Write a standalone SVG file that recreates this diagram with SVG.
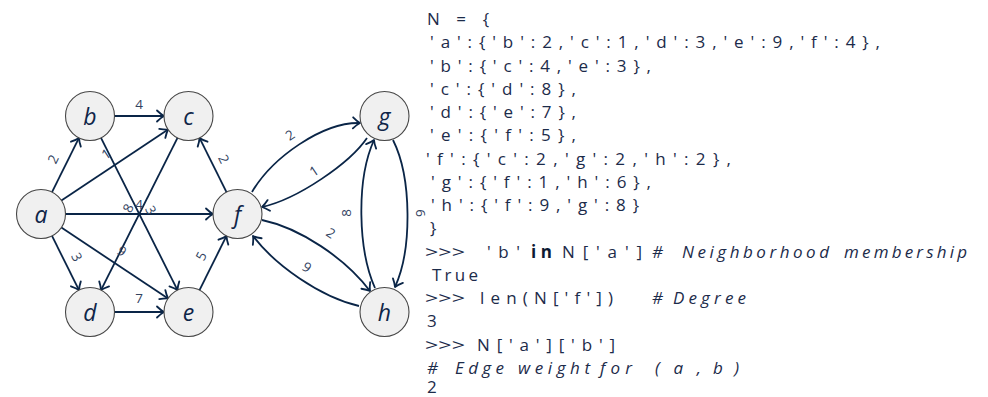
<svg xmlns="http://www.w3.org/2000/svg" width="988" height="397" viewBox="0 0 988 397">
<defs>
<marker id="arr" viewBox="-9 -8 11 16" refX="0" refY="0" markerWidth="11" markerHeight="16" markerUnits="userSpaceOnUse" orient="auto" overflow="visible">
<path d="M-7,-5.5 Q-3,-1.6 0,0 Q-3,1.6 -7,5.5" fill="none" stroke="#0a2547" stroke-width="1.8" stroke-linecap="round" stroke-linejoin="round"/>
</marker>
</defs>
<style>
.node circle{fill:#f0f0f0;stroke:#474747;stroke-width:1.1}
.node text{font-family:"Open Sans","DejaVu Sans",sans-serif;font-style:italic;font-size:23px;fill:#0f2548;text-anchor:middle;dominant-baseline:central}
.e{fill:none;stroke:#0a2547;stroke-width:1.8;marker-end:url(#arr)}
.lbl{font-family:"Open Sans","DejaVu Sans",sans-serif;font-size:13.5px;fill:#33435f;text-anchor:middle;dominant-baseline:central}
.code{font-family:"Open Sans","DejaVu Sans",sans-serif;font-size:17px;fill:#1c2b4a}
.kw{font-weight:bold;fill:#0d1a33}
.cm{font-style:italic}
</style>
<rect width="988" height="397" fill="#ffffff"/>
<g id="edges">
<line class="e" x1="52" y1="192.1" x2="79" y2="137.9"/>
<line class="e" x1="61.4" y1="200.4" x2="168.1" y2="129.5"/>
<line class="e" x1="52" y1="235.9" x2="79" y2="290.1"/>
<line class="e" x1="61.4" y1="227.6" x2="168.1" y2="298.5"/>
<line class="e" x1="65.5" y1="214" x2="213" y2="214"/>
<line class="e" x1="114.5" y1="116" x2="164" y2="116"/>
<line class="e" x1="101" y1="137.9" x2="177.5" y2="290.1"/>
<line class="e" x1="177.5" y1="137.9" x2="101" y2="290.1"/>
<line class="e" x1="114.5" y1="312" x2="164" y2="312"/>
<line class="e" x1="199.5" y1="290.1" x2="226.5" y2="235.9"/>
<line class="e" x1="226.5" y1="192.1" x2="199.5" y2="137.9"/>
<path class="e" d="M252,192 C272,158 322,122 360,123"/>
<path class="e" d="M367,138 C350,163 298,199 262,207"/>
<path class="e" d="M262,220 C300,228 345,258 370,291"/>
<path class="e" d="M359,306 C320,297 275,265 253,236"/>
<path class="e" d="M375,288 C358,250 356,180 374,140"/>
<path class="e" d="M393,140 C412,178 412,250 395,287"/>
<text class="lbl" transform="translate(53,159) rotate(-63.4)">2</text>
<text class="lbl" transform="translate(106,154) rotate(-33.7)">1</text>
<text class="lbl" transform="translate(77,257) rotate(63.4)">3</text>
<text class="lbl" transform="translate(122,251) rotate(33.7)">9</text>
<text class="lbl" transform="translate(139,204)">4</text>
<text class="lbl" transform="translate(139,104)">4</text>
<text class="lbl" transform="translate(151,210) rotate(63.4)">3</text>
<text class="lbl" transform="translate(128,208) rotate(-63.4)">8</text>
<text class="lbl" transform="translate(139,298)">7</text>
<text class="lbl" transform="translate(201,256) rotate(-63.4)">5</text>
<text class="lbl" transform="translate(224,159) rotate(63.4)">2</text>
<text class="lbl" transform="translate(290,135) rotate(-34)">2</text>
<text class="lbl" transform="translate(314,171) rotate(-34)">1</text>
<text class="lbl" transform="translate(331,233) rotate(33.5)">2</text>
<text class="lbl" transform="translate(307,267) rotate(34)">9</text>
<text class="lbl" transform="translate(346,213) rotate(-90)">8</text>
<text class="lbl" transform="translate(421,213) rotate(90)">6</text>
</g>
<g id="node-a" class="node"><circle cx="41" cy="214" r="24.5"/><text x="41" y="214">a</text></g>
<g id="node-b" class="node"><circle cx="90" cy="116" r="24.5"/><text x="90" y="116">b</text></g>
<g id="node-c" class="node"><circle cx="188.5" cy="116" r="24.5"/><text x="188.5" y="116">c</text></g>
<g id="node-d" class="node"><circle cx="90" cy="312" r="24.5"/><text x="90" y="312">d</text></g>
<g id="node-e" class="node"><circle cx="188.5" cy="312" r="24.5"/><text x="188.5" y="312">e</text></g>
<g id="node-f" class="node"><circle cx="237.5" cy="214" r="24.5"/><text x="237.5" y="214">f</text></g>
<g id="node-g" class="node"><circle cx="384.5" cy="116" r="24.5"/><text x="384.5" y="116">g</text></g>
<g id="node-h" class="node"><circle cx="384.5" cy="312" r="24.5"/><text x="384.5" y="312">h</text></g>
<g id="code" class="code" xml:space="preserve">
<text x="427" y="25" textLength="62" lengthAdjust="spacing">N = {</text>
<text x="430" y="48.25" textLength="450" lengthAdjust="spacing">'a':{'b':2,'c':1,'d':3,'e':9,'f':4},</text>
<text x="430" y="71.5" textLength="221" lengthAdjust="spacing">'b':{'c':4,'e':3},</text>
<text x="430" y="94.75" textLength="146" lengthAdjust="spacing">'c':{'d':8},</text>
<text x="430" y="118" textLength="146" lengthAdjust="spacing">'d':{'e':7},</text>
<text x="430" y="141.25" textLength="146" lengthAdjust="spacing">'e':{'f':5},</text>
<text x="426" y="164.5" textLength="305" lengthAdjust="spacing">'f':{'c':2,'g':2,'h':2},</text>
<text x="431" y="187.75" textLength="220" lengthAdjust="spacing">'g':{'f':1,'h':6},</text>
<text x="431" y="211" textLength="208" lengthAdjust="spacing">'h':{'f':9,'g':8}</text>
<text x="430" y="234.25">}</text>
<text x="425" y="257.5" textLength="40" lengthAdjust="spacingAndGlyphs">&gt;&gt;&gt;</text>
<text x="487" y="257.5" textLength="33" lengthAdjust="spacing">'b'</text>
<text class="kw" x="531" y="257.5" textLength="21" lengthAdjust="spacing">in</text>
<text x="562" y="257.5" textLength="80" lengthAdjust="spacing">N['a']</text>
<text class="cm" x="652" y="257.5">#</text>
<text class="cm" x="682" y="257.5" textLength="147" lengthAdjust="spacing">Neighborhood</text>
<text class="cm" x="844" y="257.5" textLength="123" lengthAdjust="spacing">membership</text>
<text x="432" y="280.75" textLength="46" lengthAdjust="spacing">True</text>
<text x="425" y="304" textLength="40" lengthAdjust="spacingAndGlyphs">&gt;&gt;&gt;</text>
<text x="480" y="304" textLength="133" lengthAdjust="spacing">len(N['f'])</text>
<text class="cm" x="652" y="304">#</text>
<text class="cm" x="673" y="304" textLength="73" lengthAdjust="spacing">Degree</text>
<text x="427" y="327.25">3</text>
<text x="425" y="350.5" textLength="40" lengthAdjust="spacingAndGlyphs">&gt;&gt;&gt;</text>
<text x="477" y="350.5" textLength="138" lengthAdjust="spacing">N['a']['b']</text>
<text class="cm" x="427" y="373.75">#</text>
<text class="cm" x="455" y="373.75" textLength="49" lengthAdjust="spacing">Edge</text>
<text class="cm" x="518" y="373.75" textLength="72" lengthAdjust="spacing">weight</text>
<text class="cm" x="600" y="373.75" textLength="32" lengthAdjust="spacing">for</text>
<text class="cm" x="655" y="373.75" textLength="46" lengthAdjust="spacing">(a,</text>
<text class="cm" x="713" y="373.75" textLength="26" lengthAdjust="spacing">b)</text>
<text x="427" y="393">2</text>
</g>
</svg>
